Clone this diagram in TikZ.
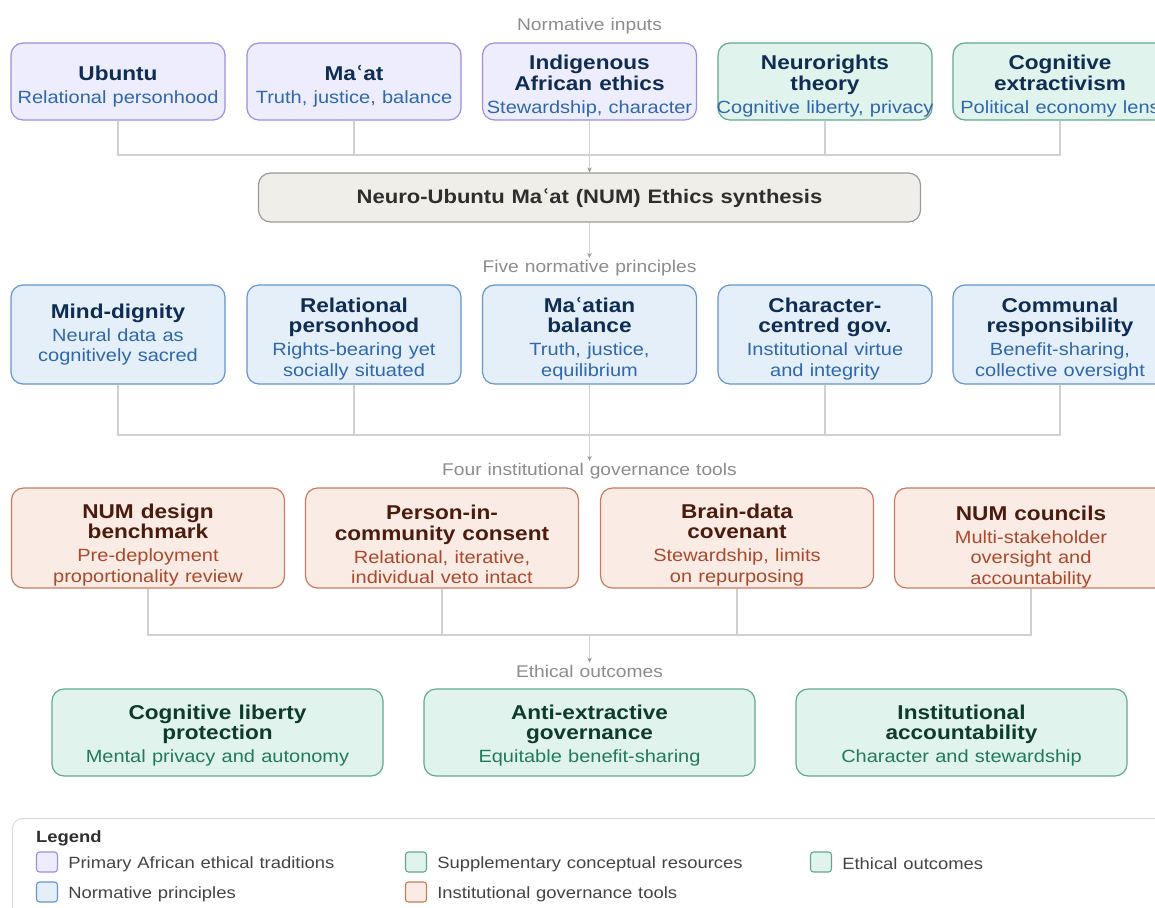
\documentclass[tikz,border=0pt]{standalone}
\usepackage{fontspec}
\setmainfont{Liberation Sans}[FakeStretch=1.13,WordSpace=1.13]
\newfontfamily\djv{DejaVu Sans}
\usetikzlibrary{arrows.meta,positioning}

\definecolor{navy}{HTML}{0F2D52}
\definecolor{subblue}{HTML}{2F67AC}
\definecolor{tradfill}{HTML}{EEEDFD}
\definecolor{tradline}{HTML}{9A8FE0}
\definecolor{suppfill}{HTML}{E0F3EC}
\definecolor{suppline}{HTML}{62A98D}
\definecolor{prinfill}{HTML}{E4EFFA}
\definecolor{prinline}{HTML}{6495CF}
\definecolor{toolfill}{HTML}{FAEBE5}
\definecolor{toolline}{HTML}{C77B5F}
\definecolor{tooltitle}{HTML}{4B1C0E}
\definecolor{toolsub}{HTML}{A94A2C}
\definecolor{outtitle}{HTML}{0D3B2C}
\definecolor{outsub}{HTML}{237A5B}
\definecolor{synthfill}{HTML}{F0EEE8}
\definecolor{synthline}{HTML}{9C9A94}
\definecolor{synthtext}{HTML}{2E2E2E}
\definecolor{secgray}{HTML}{8C8C8C}
\definecolor{linegray}{HTML}{D0D0D0}
\definecolor{tipgray}{HTML}{999999}
\definecolor{leggray}{HTML}{DDDDDD}
\definecolor{legtext}{HTML}{444444}

% the half ring of Ma'at
\newcommand{\ayn}{{\djv ʿ}}
% title and subtitle of a box, optional pad raises the first line so the text sits lower
\newcommand{\nt}[3][0pt]{%
  \parindent=0pt\spaceskip=0pt\xspaceskip=0pt
  \leftskip=0pt plus 1fil minus 40pt\rightskip=\leftskip\parfillskip=0pt
  {\fontsize{20}{20.5}\selectfont\bfseries\color{ttl}\rule{0pt}{\dimexpr14pt+#1\relax}#2\par}%
  \vspace{2.5pt}%
  {\fontsize{17.7}{20.5}\selectfont\color{sbt}#3\par}}

\begin{document}
\begin{tikzpicture}
[
x=1pt,y=-1pt,
card/.style 2 args={rounded corners=12pt,line width=1.2pt,inner sep=0pt,text width=#1,minimum height=#2,align=center},
trad/.style={card={214pt}{77pt},draw=tradline,fill=tradfill,execute at begin node=\colorlet{ttl}{navy}\colorlet{sbt}{subblue}},
supp/.style={card={214pt}{77pt},draw=suppline,fill=suppfill,execute at begin node=\colorlet{ttl}{navy}\colorlet{sbt}{subblue}},
prin/.style={card={214pt}{99pt},draw=prinline,fill=prinfill,execute at begin node=\colorlet{ttl}{navy}\colorlet{sbt}{subblue}},
tool/.style={card={273pt}{100pt},draw=toolline,fill=toolfill,execute at begin node=\colorlet{ttl}{tooltitle}\colorlet{sbt}{toolsub}},
outc/.style={card={331pt}{87pt},draw=suppline,fill=suppfill,execute at begin node=\colorlet{ttl}{outtitle}\colorlet{sbt}{outsub}},
synth/.style={draw=synthline,fill=synthfill,rounded corners=12pt,line width=1.2pt,minimum width=662pt,minimum height=49pt,font=\fontsize{19.5}{22}\selectfont\bfseries,text=synthtext},
sec/.style={text=secgray,font=\fontsize{17}{20}\selectfont,inner sep=2pt},
conn/.style={draw=linegray,line width=1.6pt},
arr/.style={-{Stealth[length=5pt,width=4.5pt,color=tipgray]}},
swatch/.style={rounded corners=3pt,minimum width=21pt,minimum height=20pt,line width=1.1pt,inner sep=0pt},
legtext/.style={text=legtext,font=\fontsize{16.3}{19}\selectfont,inner sep=0pt,yshift=-2pt},
]
\useasboundingbox (0,0) rectangle (1155,907);
\clip (0,0) rectangle (1155,907);

%Place the nodes
\node[sec] (sec1) at (589.5,26.5) {Normative inputs};
\node[trad] (ubu) at (118,81.5) {\nt[10pt]{Ubuntu}{Relational personhood}};
\node[trad] (maat) at (354,81.5) {\nt[10pt]{Ma\ayn at}{Truth, justice, balance}};
\node[trad] (ind) at (589.5,81.5) {\nt[10pt]{Indigenous\\African ethics}{Stewardship, character}};
\node[supp] (neuro) at (825,81.5) {\nt[10pt]{Neurorights\\theory}{Cognitive liberty, privacy}};
\node[supp] (extr) at (1060,81.5) {\nt[10pt]{Cognitive\\extractivism}{Political economy lens}};

\node[synth] (num) at (589.5,197.5) {\rule{0pt}{17pt}Neuro-Ubuntu Ma\ayn at (NUM) Ethics synthesis};

\node[sec] (sec2) at (589.5,268) {Five normative principles};
\node[prin] (dign) at (118,334.5) {\nt{Mind-dignity}{Neural data as\\cognitively sacred}};
\node[prin] (relp) at (354,334.5) {\nt[9pt]{Relational\\personhood}{Rights-bearing yet\\socially situated}};
\node[prin] (bal) at (589.5,334.5) {\nt[9pt]{Ma\ayn atian\\balance}{Truth, justice,\\equilibrium}};
\node[prin] (char) at (825,334.5) {\nt[9pt]{Character-\\centred gov.}{Institutional virtue\\and integrity}};
\node[prin] (comm) at (1060,334.5) {\nt[9pt]{Communal\\responsibility}{Benefit-sharing,\\collective oversight}};

\node[sec] (sec3) at (589.5,471) {Four institutional governance tools};
\node[tool] (bench) at (148,538) {\nt[14pt]{NUM design\\benchmark}{Pre-deployment\\proportionality review}};
\node[tool] (consent) at (442,538) {\nt[14pt]{Person-in-\\community consent}{Relational, iterative,\\individual veto intact}};
\node[tool] (cov) at (737,538) {\nt[14pt]{Brain-data\\covenant}{Stewardship, limits\\on repurposing}};
\node[tool] (counc) at (1031,538) {\nt[18pt]{NUM councils}{Multi-stakeholder\\oversight and\\accountability}};

\node[sec] (sec4) at (589.5,671) {Ethical outcomes};
\node[outc] (libp) at (217.5,732.5) {\nt[7pt]{Cognitive liberty\\protection}{Mental privacy and autonomy}};
\node[outc] (antx) at (589.5,732.5) {\nt[7pt]{Anti-extractive\\governance}{Equitable benefit-sharing}};
\node[outc] (acct) at (961.5,732.5) {\nt[7pt]{Institutional\\accountability}{Character and stewardship}};

%Legend
\node[draw=leggray,fill=white,rounded corners=10pt,line width=1pt,minimum width=1163pt,minimum height=110pt,anchor=north west] (leg) at (12,818) {};
\node[legtext,anchor=west,font=\fontsize{16.3}{19}\selectfont\bfseries,text=synthtext] (legt) at (36,836) {Legend};
\node[swatch,draw=tradline,fill=tradfill] (k1) at (47,862) {};
\node[legtext,right=10pt of k1] {Primary African ethical traditions};
\node[swatch,draw=suppline,fill=suppfill] (k2) at (416,862) {};
\node[legtext,right=10pt of k2] {Supplementary conceptual resources};
\node[swatch,draw=suppline,fill=suppfill] (k3) at (821,862) {};
\node[legtext,right=10pt of k3] {Ethical outcomes};
\node[swatch,draw=prinline,fill=prinfill] (k4) at (47,892) {};
\node[legtext,right=10pt of k4] {Normative principles};
\node[swatch,draw=toolline,fill=toolfill] (k5) at (416,892) {};
\node[legtext,right=10pt of k5] {Institutional governance tools};

%Draw the connections
\coordinate (j1) at (589.5,155);
\coordinate (j2) at (589.5,435);
\coordinate (j3) at (589.5,635);
\foreach \n in {ubu,maat,neuro,extr} \draw[conn] (\n.south) |- (j1);
\draw[conn,arr] (ind.south) -- (num.north);
\draw[conn,arr] (num.south) -- (sec2.north);
\foreach \n in {dign,relp,char,comm} \draw[conn] (\n.south) |- (j2);
\draw[conn,arr] (bal.south) -- (sec3.north);
\foreach \n in {bench,consent,cov,counc} \draw[conn] (\n.south) |- (j3);
\draw[conn,arr] (j3) -- (sec4.north);
\end{tikzpicture}
\end{document}
